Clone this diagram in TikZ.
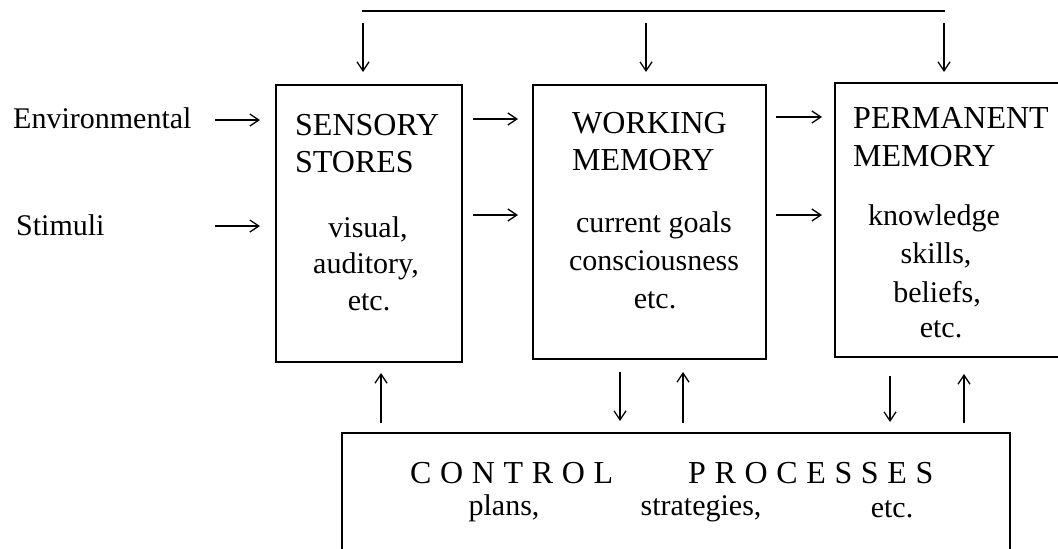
\documentclass[tikz,border=0pt]{standalone}
\usepackage{fontspec}
\setmainfont{Liberation Serif}
\usetikzlibrary{arrows.meta}
\begin{document}
\begin{tikzpicture}[x=1pt,y=-1pt,
  box/.style={draw,line width=1.8pt,inner sep=0pt},
  conn/.style={line width=1.4pt,-{Straight Barb[length=9pt,width=12pt,line width=1.3pt]}},
  title/.style={anchor=base west,inner sep=0pt,font=\fontsize{32}{38}\selectfont},
  lower/.style={anchor=base,inner sep=0pt,font=\fontsize{30}{36}\selectfont},
  spaced/.style={anchor=base west,inner sep=0pt,font=\fontsize{32}{38}\selectfont\addfontfeature{LetterSpace=27}}]
\useasboundingbox (0,0) rectangle (1058,549);
\clip (0,0) rectangle (1058,549);
% boxes
\node[box,minimum width=186pt,minimum height=277pt] (sens) at (369,223.5) {};
\node[box,minimum width=233pt,minimum height=274pt] (work) at (649.5,222) {};
\node[box,minimum width=260pt,minimum height=274pt] (perm) at (965,220) {};
\node[box,minimum width=668pt,minimum height=160pt] (ctrl) at (676,513) {};
% texts
\node[title] (t1) at (295,135) {SENSORY};
\node[title] (t2) at (295,172) {STORES};
\node[title] (t3) at (572,133) {WORKING};
\node[title] (t4) at (572,170) {MEMORY};
\node[title] (t5) at (853,128) {PERMANENT};
\node[title] (t6) at (853,166) {MEMORY};
\node[lower] (s1) at (368,237) {visual,};
\node[lower] (s2) at (366,273) {auditory,};
\node[lower] (s3) at (369,310) {etc.};
\node[lower] (w1) at (654,232) {current goals};
\node[lower] (w2) at (654,270) {consciousness};
\node[lower] (w3) at (655,308) {etc.};
\node[lower] (p1) at (934,225) {knowledge};
\node[lower] (p2) at (936,263) {skills,};
\node[lower] (p3) at (937,302) {beliefs,};
\node[lower] (p4) at (941,337) {etc.};
\node[title] (env) at (13,128) {\fontsize{30}{36}\selectfont Environmental};
\node[title] (stim) at (16,235) {\fontsize{30}{36}\selectfont Stimuli};
\node[spaced] (cp1) at (410,483) {CONTROL};
\node[spaced] (cp2) at (688,483) {PROCESSES};
\node[lower] (c1) at (504,515) {plans,};
\node[lower] (c2) at (701,515) {strategies,};
\node[lower] (c3) at (892,517) {etc.};
% coordinates
\coordinate (topL) at (362,11);
\coordinate (topR) at (945,11);
\foreach \n/\x/\y in {a1/215/120, a2/260/120, b1/215/226, b2/260/226,
  c1/473/119, c2/518/119, d1/473/215, d2/518/215,
  e1/776/117, e2/822/117, f1/776/215, f2/822/215,
  g1/363/23, g2/363/72, h1/646/23, h2/646/72, i1/944/23, i2/944/72,
  j1/381/423, j2/381/373, k1/620/372, k2/620/421, l1/683/423, l2/683/372,
  m1/890/376, m2/890/422, n1/964/423, n2/964/374}
  {\coordinate (\n) at (\x,\y);}
\draw[line width=1.4pt] (topL) -- (topR);
\foreach \s/\e in {a1/a2,b1/b2,c1/c2,d1/d2,e1/e2,f1/f2,g1/g2,h1/h2,i1/i2,j1/j2,k1/k2,l1/l2,m1/m2,n1/n2}
  \draw[conn] (\s) -- (\e);
\end{tikzpicture}
\end{document}
